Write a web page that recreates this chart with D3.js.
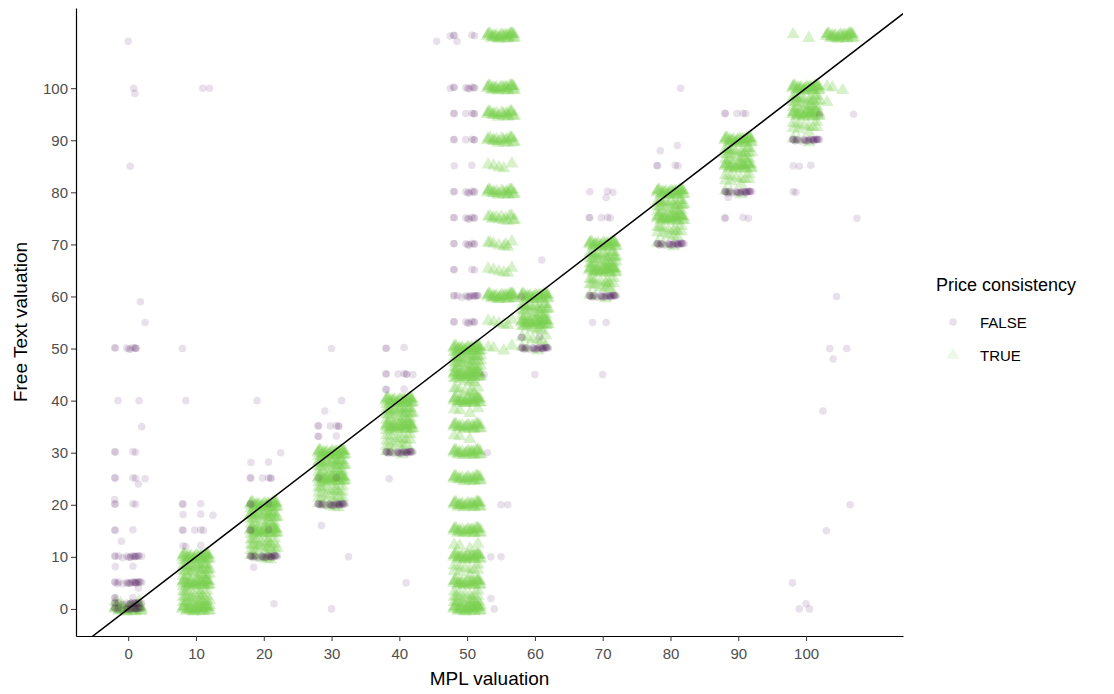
<!DOCTYPE html>
<html><head><meta charset="utf-8">
<script src="https://cdn.jsdelivr.net/npm/d3@7"></script>
<style>body{margin:0;background:#fff;font-family:Arial,"Liberation Sans",sans-serif}</style>
</head><body><div id="chart"></div>
<script>
// ticks
const xTicks = [0,10,20,30,40,50,60,70,80,90,100];
const yTicks = [0,10,20,30,40,50,60,70,80,90,100];
// read-off jitter offsets (MPL units) and small y offsets
const jitterX = [-1.9,0.4,-1.1,1.6,-0.3,1.0,-1.6,0.7,2.0,-0.7,1.3,-1.3,0.1,1.8,-2.0,0.9,-0.5,1.5,-1.0,0.3,-1.8,1.1,-0.1,1.9,-1.4,0.6,-0.8,1.7,-0.2,1.2];
const jitterY = [0.3,-0.4,0.1,0.5,-0.2,-0.5,0.4,0,-0.3,0.2,0.5,-0.1,0.3,-0.4,0,0.2,-0.5,0.4,-0.2,0.1,0.5,-0.3,0,0.3,-0.4,0.2,-0.1,0.4,-0.5,0.1];
// TRUE bands: [mpl, y, count]
const trueBands = [
  [0,0,30],[0,1,4],
  [10,0,30],[10,1,10],[10,2,10],[10,3,8],[10,4,4],[10,5,30],[10,6,4],[10,7,10],[10,8,14],[10,9,6],[10,10,30],
  [20,10,8],[20,11,4],[20,12,10],[20,13,8],[20,14,4],[20,15,30],[20,16,4],[20,17,8],[20,18,16],[20,19,6],[20,20,30],
  [30,20,6],[30,21,4],[30,22,6],[30,23,8],[30,24,4],[30,25,30],[30,26,6],[30,27,8],[30,28,16],[30,29,6],[30,30,30],
  [40,30,4],[40,31,3],[40,32,6],[40,33,6],[40,34,4],[40,35,28],[40,36,6],[40,37,8],[40,38,14],[40,39,6],[40,40,30],
  [50,0,30],[50,1,10],[50,2,8],[50,3,6],[50,5,28],[50,7,4],[50,8,6],[50,10,30],[50,12,4],[50,15,26],[50,20,28],[50,25,24],[50,30,26],[50,33,3],[50,35,24],[50,38,4],[50,40,30],[50,42,8],[50,44,8],[50,45,30],[50,46,8],[50,47,10],[50,48,12],[50,49,10],[50,50,30],
  [55,50,4],[55,55,6],[55,60,30],[55,65,6],[55,70,8],[55,75,14],[55,80,22],[55,85,5],[55,90,20],[55,95,22],[55,100,28],[55,110,30],
  [60,50,4],[60,52,6],[60,54,8],[60,55,28],[60,56,6],[60,57,8],[60,58,14],[60,60,30],
  [70,60,4],[70,62,8],[70,63,8],[70,65,28],[70,66,8],[70,67,10],[70,68,14],[70,70,30],
  [80,70,3],[80,72,6],[80,73,8],[80,75,28],[80,76,6],[80,77,8],[80,78,14],[80,80,30],
  [90,80,3],[90,82,4],[90,83,6],[90,85,26],[90,86,4],[90,87,8],[90,88,12],[90,90,30],
  [100,90,3],[100,92,4],[100,93,6],[100,95,26],[100,96,6],[100,97,8],[100,98,12],[100,100,30],[100,110,2],
  [105,110,30],[105,100,3],[105,97,1]
];
// FALSE bands: [mpl, y, count]
const falseBands = [
  [0,0,20],[0,1,16],[0,5,20],[0,10,16],[0,2,3],[0,8,2],[0,15,3],[0,20,4],[0,25,4],[0,30,4],[0,50,8],
  [10,15,5],[10,20,3],[10,12,2],[10,18,2],
  [20,10,24],[20,25,6],[20,20,3],[20,15,3],[20,28,2],
  [30,20,24],[30,35,6],[30,33,3],[30,25,2],
  [40,30,24],[40,45,6],[40,42,3],[40,50,2],
  [50,100,8],[50,95,6],[50,90,6],[50,80,8],[50,75,8],[50,70,8],[50,60,14],[50,55,8],[50,65,4],[50,85,2],[50,110,4],
  [60,50,24],[60,52,3],
  [70,60,24],[70,75,5],[70,80,2],
  [80,70,24],[80,85,4],
  [90,80,24],[90,95,5],[90,75,2],
  [100,90,24],[100,85,2],[100,80,1]
];
// scattered FALSE points [x, y]
const falseSingles = [
  [0,109],[0.8,100],[1,99],[0.3,85],[1.8,59],[2.5,55],[1.2,50],[-1.5,40],[1.6,40],[2,35],[-2,21],[2.5,25],[1.5,24],[-1,13],[1.5,4],
  [8,50],[8.5,40],[11,100],[12,100],[12.5,18],[8.5,12],
  [19,40],[21.5,1],[22.5,30],[18.5,8],
  [30,50],[30,0],[32.5,10],[28.5,16],[31.5,40],[29,38],
  [38.5,25],[41,5],[42,45],[38,50],
  [45.5,109],[47.5,110],[48.5,109],[52.5,45],[53,30],[55,20],[56,20],[53.5,10],[55,10],[53.5,2],[54,0],[47.5,100],
  [61,67],[58,60],[60,45],
  [70,45],[70.5,55],[68.5,55],[71.5,80],[70.5,79],
  [78.5,88],[81.5,100],[81,89],
  [88,75],[91.5,75],[88.5,79],
  [98,5],[99,0],[100,1],[100.5,0],[99,85],[98.5,80],[102,95],
  [102.5,38],[103,15],[104,48],[104.5,60],[103.5,50],[106,50],[106.5,20],[107.5,75],[107,95]
];

const W = 1114, H = 694;
const m = {left:76, right:211, top:8, bottom:58};
const svg = d3.select("#chart").append("svg").attr("width", W).attr("height", H);

const x = d3.scaleLinear().domain([-7.7, 114.3]).range([m.left, W - m.right]);
const y = d3.scaleLinear().domain([-5.2, 115.4]).range([H - m.bottom, m.top]);

const plot = svg.append("g");
const purple = "#440154", green = "#7AD151";

// TRUE triangles
const truePts = [];
trueBands.forEach(([mpl, v, n]) => {
  for (let i = 0; i < n; i++) truePts.push([mpl + jitterX[i % jitterX.length], v + jitterY[i % jitterY.length]]);
});
const tri = d3.symbol().type(d3.symbolTriangle).size(75);
plot.selectAll("path.t").data(truePts).join("path")
  .attr("class", "t")
  .attr("transform", d => `translate(${x(d[0])},${y(d[1])})`)
  .attr("d", tri)
  .attr("fill", green).attr("fill-opacity", 0.3);

// FALSE circles
const falsePts = [];
falseBands.forEach(([mpl, v, n]) => {
  for (let i = 0; i < n; i++) falsePts.push([mpl + jitterX[(i * 7) % jitterX.length], v + jitterY[(i * 3) % jitterY.length] * 0.4]);
});
falseSingles.forEach(p => falsePts.push(p));
plot.selectAll("circle.f").data(falsePts).join("circle")
  .attr("class", "f")
  .attr("cx", d => x(d[0])).attr("cy", d => y(d[1])).attr("r", 3.8)
  .attr("fill", purple).attr("fill-opacity", 0.12);

// y = x line
svg.append("defs").append("clipPath").attr("id", "clip").append("rect")
  .attr("x", m.left).attr("y", m.top).attr("width", W - m.left - m.right).attr("height", H - m.top - m.bottom);
svg.append("line").attr("clip-path", "url(#clip)")
  .attr("x1", x(-10)).attr("y1", y(-10)).attr("x2", x(120)).attr("y2", y(120))
  .attr("stroke", "#000").attr("stroke-width", 1.5);

// axes
const xAxis = svg.append("g").attr("transform", `translate(0,${H - m.bottom})`)
  .call(d3.axisBottom(x).tickValues(xTicks).tickSize(5).tickSizeOuter(0));
const yAxis = svg.append("g").attr("transform", `translate(${m.left},0)`)
  .call(d3.axisLeft(y).tickValues(yTicks).tickSize(5).tickSizeOuter(0));
[xAxis, yAxis].forEach(a => {
  a.select(".domain").attr("stroke", "#000").attr("stroke-width", 1.2);
  a.selectAll(".tick line").attr("stroke", "#333");
  a.selectAll(".tick text").attr("fill", "#4d4d4d").attr("font-size", 15).attr("font-family", "Arial, Liberation Sans, sans-serif");
});
xAxis.selectAll(".tick text").attr("dy", "1.0em");

svg.append("text").attr("x", (m.left + W - m.right) / 2).attr("y", 685)
  .attr("text-anchor", "middle").attr("font-size", 19).text("MPL valuation");
svg.append("text").attr("transform", `translate(27,${(m.top + H - m.bottom) / 2}) rotate(-90)`)
  .attr("text-anchor", "middle").attr("font-size", 19).text("Free Text valuation");

// legend
const lg = svg.append("g").attr("transform", "translate(936,0)");
lg.append("text").attr("x", 0).attr("y", 291).attr("font-size", 18).text("Price consistency");
lg.append("circle").attr("cx", 17).attr("cy", 322).attr("r", 3.8).attr("fill", purple).attr("fill-opacity", 0.12);
lg.append("path").attr("transform", "translate(17,355)").attr("d", tri).attr("fill", green).attr("fill-opacity", 0.14);
lg.append("text").attr("x", 44).attr("y", 328).attr("font-size", 15).text("FALSE");
lg.append("text").attr("x", 44).attr("y", 361).attr("font-size", 15).text("TRUE");
</script></body></html>
